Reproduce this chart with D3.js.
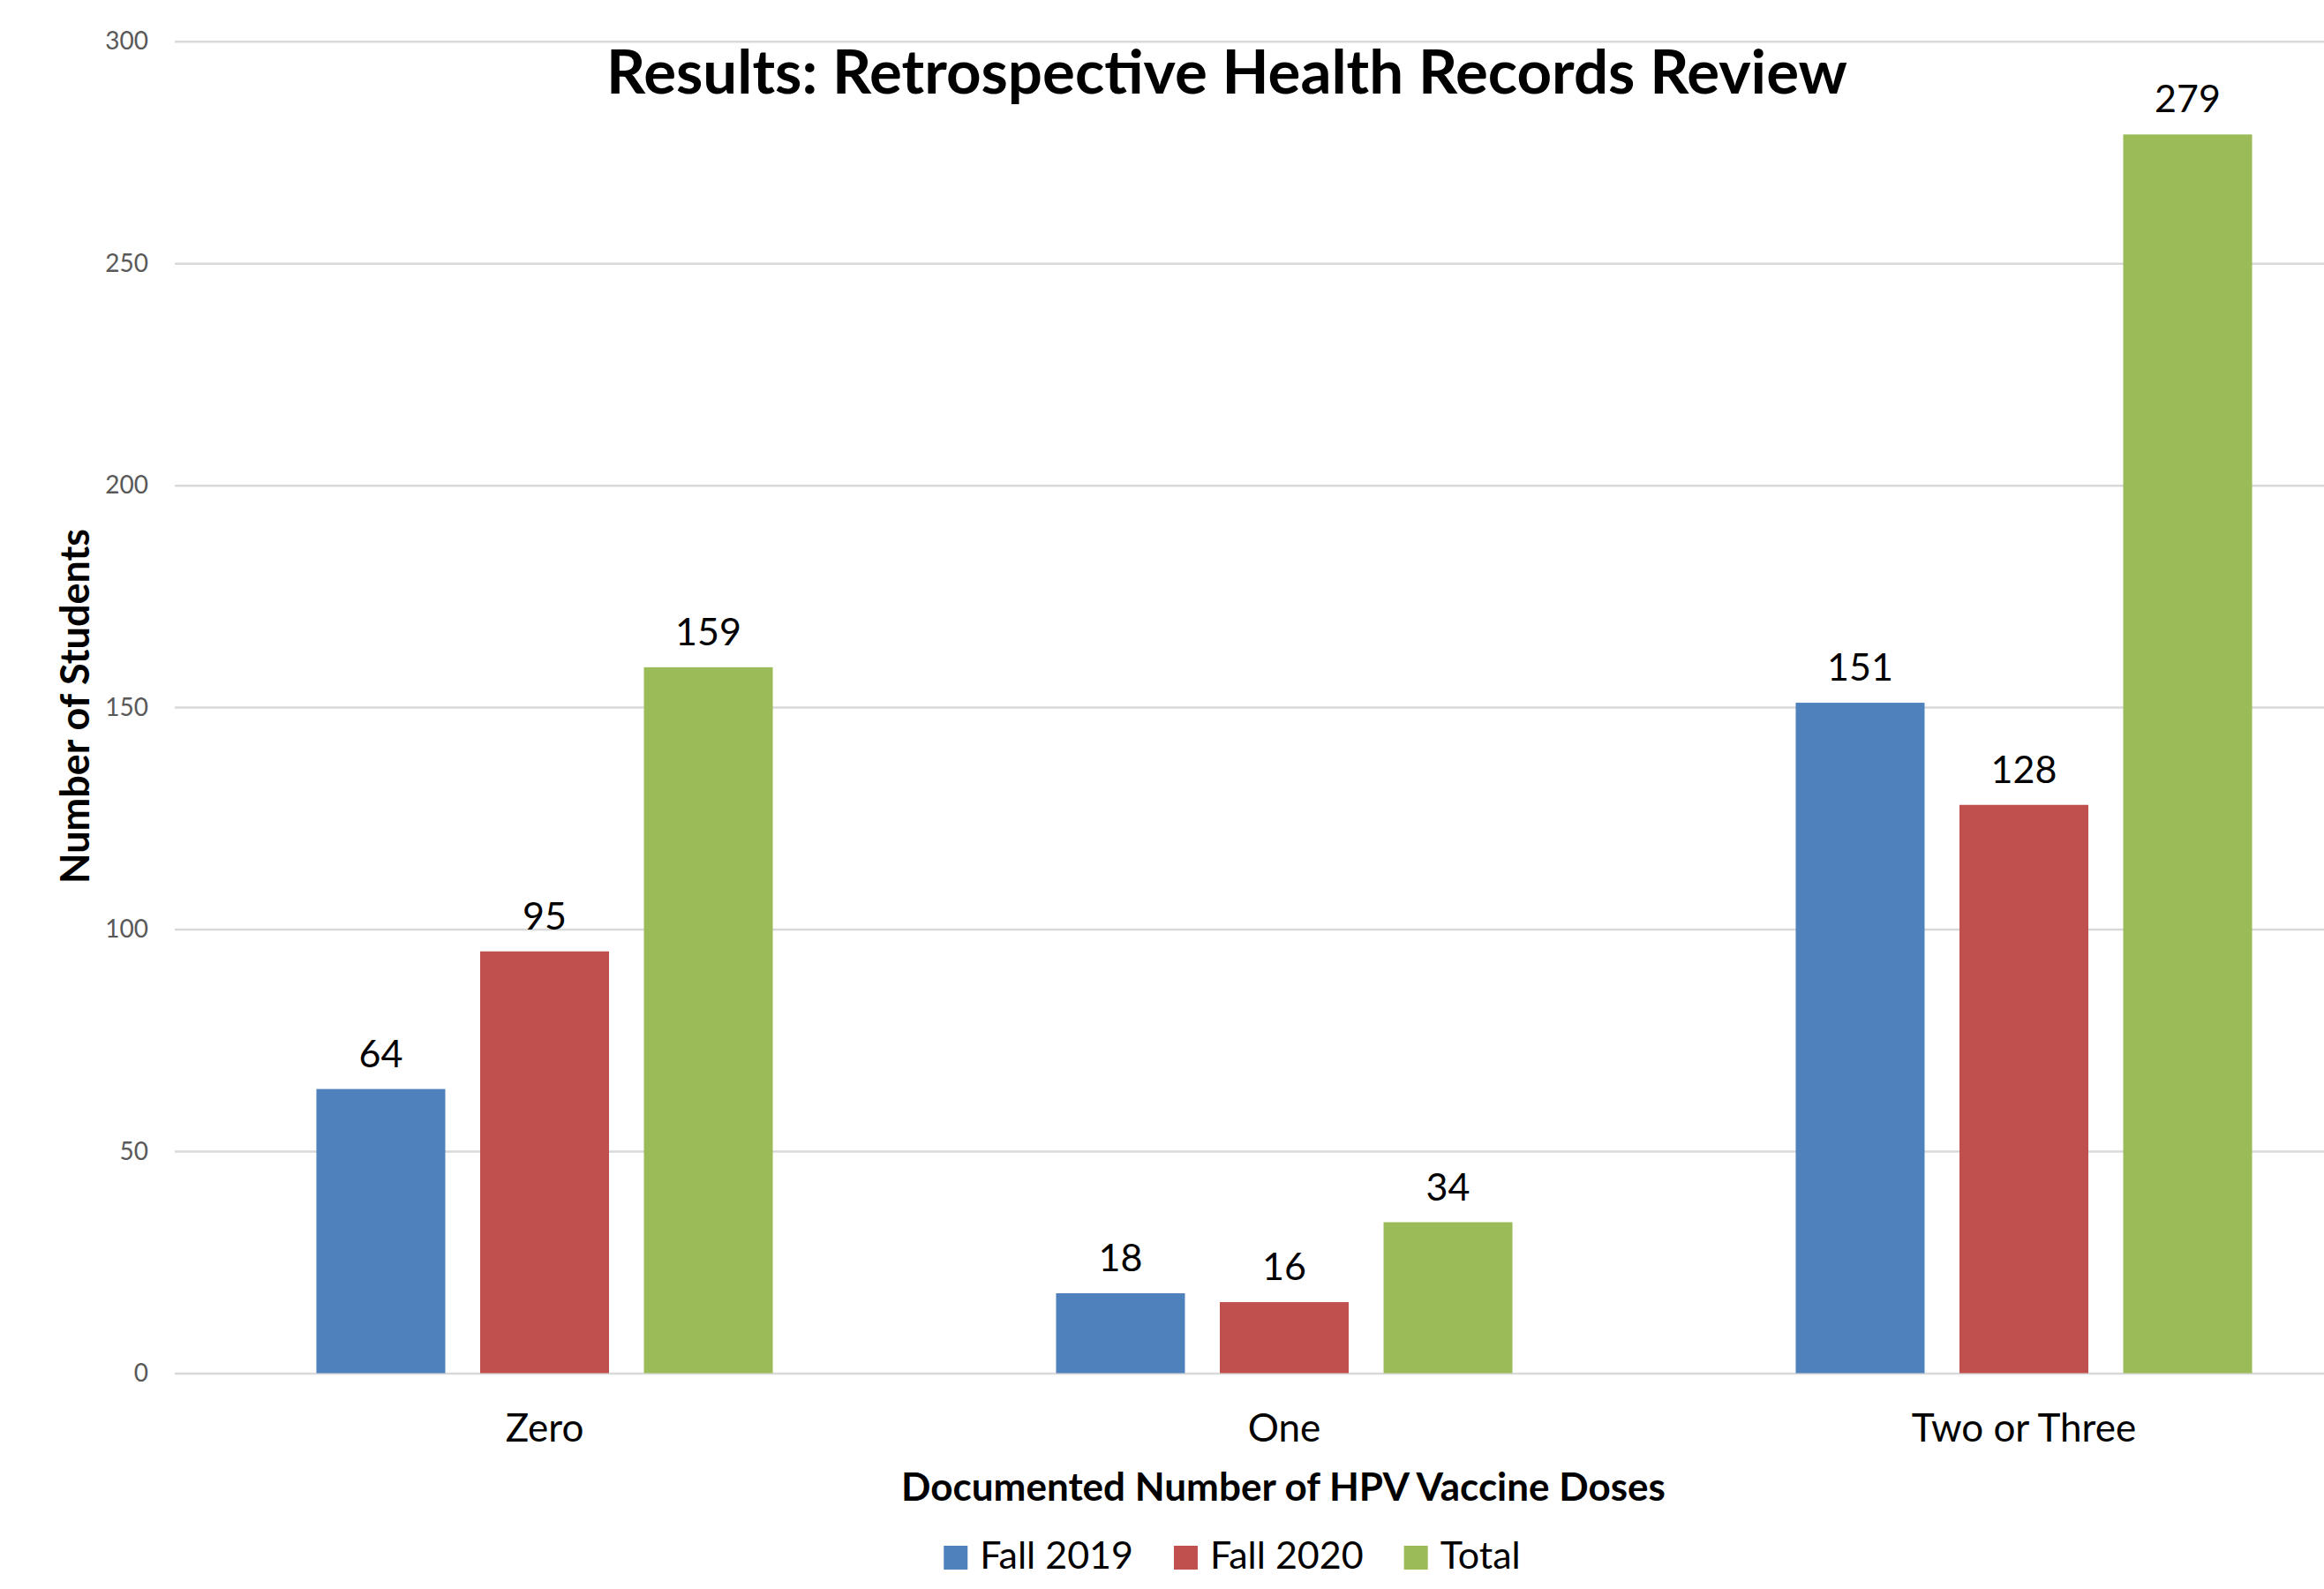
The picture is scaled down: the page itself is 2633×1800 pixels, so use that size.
<!DOCTYPE html>
<html>
<head>
<meta charset="utf-8">
<script src="https://cdn.jsdelivr.net/npm/d3@7.9.0/dist/d3.min.js"></script>
<style>
  html, body { margin: 0; padding: 0; background: #fff; }
  svg { display: block; font-family: Lato, "Open Sans", sans-serif; }
</style>
</head>
<body>
<svg id="chart" width="2633" height="1800"></svg>
<script>
// data
const categories = ['Zero', 'One', 'Two or Three'];
const seriesNames = ['Fall 2019', 'Fall 2020', 'Total'];
const fall2019 = [64, 18, 151];
const fall2020 = [95, 16, 128];
const total = [159, 34, 279];
const yTicks = [0, 50, 100, 150, 200, 250, 300];

const seriesValues = [fall2019, fall2020, total];
const colors = ['#4F81BD', '#C0504D', '#9BBB59'];

const svg = d3.select('#chart');

// plot area (runs off the right edge, like the original)
const plotLeft = 198, plotRight = 2712, plotTop = 46.7, plotBottom = 1555.5;

const x0 = d3.scaleBand().domain(categories).range([plotLeft, plotRight]).padding(0);
const x1 = d3.scaleBand().domain(seriesNames)
    .range([0, x0.bandwidth()])
    .paddingInner(0.213)
    .paddingOuter(0.865);
const y = d3.scaleLinear().domain([0, 300]).range([plotBottom, plotTop]);

// gridlines + tick labels
const yAxis = svg.append('g')
    .attr('transform', `translate(${plotLeft},0)`)
    .call(d3.axisLeft(y).tickValues(yTicks).tickSize(-(plotRight - plotLeft)).tickPadding(30));
yAxis.select('.domain').remove();
yAxis.selectAll('line').attr('stroke', '#D9D9D9').attr('stroke-width', 2.5);
yAxis.selectAll('text')
    .attr('fill', '#595959')
    .style('font-size', '28px')
    .style('font-family', 'Lato, sans-serif');

// bars
let groups = svg.append('g').selectAll('g')
    .data(categories)
    .join('g')
    .attr('transform', (d) => `translate(${x0(d)},0)`);

groups.selectAll('rect')
    .data((d, i) => seriesNames.map((s, j) => ({ s, v: seriesValues[j][i], j })))
    .join('rect')
    .attr('x', (d) => x1(d.s))
    .attr('y', (d) => y(d.v))
    .attr('width', x1.bandwidth())
    .attr('height', (d) => y(0) - y(d.v))
    .attr('fill', (d) => colors[d.j]);

// value labels
groups.selectAll('text')
    .data((d, i) => seriesNames.map((s, j) => ({ s, v: seriesValues[j][i] })))
    .join('text')
    .attr('x', (d) => x1(d.s) + x1.bandwidth() / 2)
    .attr('y', (d) => y(d.v) - 25)
    .attr('text-anchor', 'middle')
    .style('font-size', '43px')
    .text((d) => d.v);

// category labels
svg.append('g').selectAll('text')
    .data(categories)
    .join('text')
    .attr('x', (d) => x0(d) + x0.bandwidth() / 2)
    .attr('y', 1633)
    .attr('text-anchor', 'middle')
    .style('font-size', '44px')
    .text((d) => d);

// title
svg.append('text')
    .attr('x', 1390)
    .attr('y', 106)
    .attr('text-anchor', 'middle')
    .style('font-size', '69px')
    .style('font-weight', 'bold')
    .text('Results: Retrospective Health Records Review');

// axis titles
svg.append('text')
    .attr('x', 1454)
    .attr('y', 1700)
    .attr('text-anchor', 'middle')
    .style('font-size', '44px')
    .style('font-weight', 'bold')
    .text('Documented Number of HPV Vaccine Doses');

svg.append('text')
    .attr('transform', 'translate(101,800) rotate(-90)')
    .attr('text-anchor', 'middle')
    .style('font-size', '45px')
    .style('font-weight', 'bold')
    .text('Number of Students');

// legend
const legend = svg.append('g');
const items = legend.selectAll('g')
    .data(seriesNames)
    .join('g');
items.append('rect')
    .attr('y', 1751)
    .attr('width', 27)
    .attr('height', 27)
    .attr('fill', (d, i) => colors[i]);
items.append('text')
    .attr('x', 41)
    .attr('y', 1777)
    .style('font-size', '43px')
    .text((d) => d);

let pos = 0;
items.each(function () {
    const w = 41 + d3.select(this).select('text').node().getComputedTextLength();
    d3.select(this).attr('data-x', pos);
    pos += w + 46;
});
const legendWidth = pos - 46;
const legendStart = 1396 - legendWidth / 2;
items.attr('transform', function () {
    return `translate(${legendStart + +this.getAttribute('data-x')},0)`;
});
</script>
</body>
</html>
